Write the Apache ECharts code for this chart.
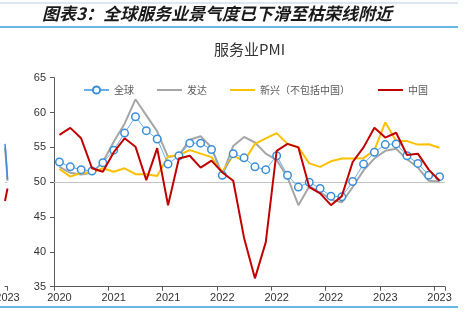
<!DOCTYPE html>
<html>
<head>
<meta charset="utf-8">
<script src="https://cdn.jsdelivr.net/npm/echarts@6/dist/echarts.min.js"></script>
<style>
html,body{margin:0;padding:0;background:#fff;}
#c{width:469px;height:325px;}
</style>
</head>
<body>
<div id="c"></div>
<script>
// ---- data (monthly, Oct 2020 - Sep 2023) ----
const categories = ['2020-10','2020-11','2020-12','2021-01','2021-02','2021-03','2021-04','2021-05','2021-06','2021-07','2021-08','2021-09',
  '2021-10','2021-11','2021-12','2022-01','2022-02','2022-03','2022-04','2022-05','2022-06','2022-07','2022-08','2022-09',
  '2022-10','2022-11','2022-12','2023-01','2023-02','2023-03','2023-04','2023-05','2023-06','2023-07','2023-08','2023-09'];
const globalPMI = [52.9,52.2,51.8,51.6,52.8,54.6,57.05,59.4,57.4,56.2,52.6,53.8,55.6,55.6,54.7,51.0,54.1,53.5,52.2,51.8,53.8,51.0,49.3,50.0,49.1,48.0,47.9,50.1,52.6,54.3,55.4,55.5,53.8,52.7,51.0,50.8];
const developedPMI = [52.2,51.35,51.1,51.35,52.9,55.8,58.4,61.9,59.6,57.3,53.6,53.85,56.1,56.6,55.0,51.1,55.2,56.5,55.7,54.1,53.2,50.7,46.7,49.4,48.6,47.5,47.1,49.3,51.7,53.4,54.5,54.8,53.3,52.1,50.2,50.1];
const emergingExChinaPMI = [51.9,50.8,51.35,51.35,52.0,51.5,52.0,51.15,51.15,50.9,53.7,53.9,54.6,54.1,53.6,51.5,53.85,53.0,55.5,56.3,57.05,55.5,55.0,52.7,52.2,53.0,53.4,53.4,53.45,54.6,58.6,55.9,55.9,55.4,55.45,54.95];
const chinaPMI = [56.8,57.8,56.3,52.0,51.5,54.3,56.3,55.1,50.3,54.9,46.7,53.4,53.8,52.1,53.1,51.4,50.2,42.0,36.2,41.4,54.5,55.5,55.0,49.3,48.4,46.7,48.0,52.9,55.0,57.8,56.4,57.1,53.9,54.1,51.8,50.2];
const yTicks = {min:35, max:65, step:5};
const boomBustLine = 50;

// neighbouring chart (cut off at the left edge)
const nbCategories = ['nb1','nb2','nb3','nb4'];
const nbLastLabel = '2023';
const nbGlobal = [55.5,54.0,52.3,50.4];
const nbDeveloped = [55.0,53.6,52.0,50.2];
const nbChina = [47.3,47.9,48.5,49.1];

const seriesNames = ['全球','发达','新兴（不包括中国）','中国'];
const chartTitle = '服务业PMI';
const figureTitle = '图表3：全球服务业景气度已下滑至枯荣线附近';

const chart = echarts.init(document.getElementById('c'), null, {renderer:'canvas'});
const axisColor = '#595959';
const labelFont = {color:'#333', fontSize:11, fontFamily:'Liberation Sans, Arial, sans-serif'};
const gridTop = 77.7, gridBottom = 38.3;
const legendText = {fontSize:10, color:'#595959', fontFamily:'Noto Sans CJK SC'};
const noSymbol = {itemStyle:{opacity:0}};

chart.setOption({
  animation:false,
  backgroundColor:'#fff',
  title:[
    {text:figureTitle, left:42, top:5, padding:0, textStyle:{fontSize:17, fontStyle:'italic', fontWeight:'bold', color:'#1a1a1a', fontFamily:'Noto Sans CJK SC'}},
    {text:chartTitle, left:249.5, textAlign:'center', top:42, padding:0, textStyle:{fontSize:15, fontWeight:'normal', color:'#333', fontFamily:'Noto Sans CJK SC'}}
  ],
  graphic:[
    {type:'line', shape:{x1:0,y1:3,x2:458,y2:3}, style:{stroke:'#b8cfe3', lineWidth:1}, silent:true},
    {type:'line', shape:{x1:0,y1:27,x2:458,y2:27}, style:{stroke:'#3a9fdb', lineWidth:1.5}, silent:true},
    {type:'line', shape:{x1:0,y1:307,x2:458,y2:307}, style:{stroke:'#3a9fdb', lineWidth:1.5}, silent:true}
  ],
  legend:[
    {data:[seriesNames[0], Object.assign({name:seriesNames[1]}, noSymbol), Object.assign({name:seriesNames[2]}, noSymbol)],
     left:83, top:85, padding:0, itemWidth:25, itemHeight:9, itemGap:22, textStyle:legendText},
    {data:[Object.assign({name:seriesNames[3]}, noSymbol)],
     left:377, top:85, padding:0, itemWidth:25, itemHeight:9, textStyle:legendText}
  ],
  grid:[
    {left:54, right:24, top:gridTop, bottom:gridBottom},
    {left:-5, right:464, top:gridTop, bottom:gridBottom}
  ],
  xAxis:[
    {type:'category', data:categories, boundaryGap:true, gridIndex:0,
     axisLine:{lineStyle:{color:axisColor}},
     axisTick:{show:true, interval:4, length:4, lineStyle:{color:axisColor}},
     axisLabel:Object.assign({interval:4, margin:6, formatter:v=>v.slice(0,4)}, labelFont)},
    {type:'category', data:nbCategories, boundaryGap:false, gridIndex:1,
     axisLine:{lineStyle:{color:axisColor}},
     axisTick:{show:true, length:4, interval:(i)=>i===nbCategories.length-1, lineStyle:{color:axisColor}},
     axisLabel:Object.assign({interval:(i)=>i===nbCategories.length-1, margin:6, formatter:()=>nbLastLabel}, labelFont)}
  ],
  yAxis:[
    {type:'value', min:yTicks.min, max:yTicks.max, interval:yTicks.step, gridIndex:0,
     axisLine:{show:true, lineStyle:{color:axisColor}},
     axisTick:{show:true, length:4, lineStyle:{color:axisColor}},
     splitLine:{show:false},
     axisLabel:Object.assign({margin:8}, labelFont)},
    {type:'value', min:yTicks.min, max:yTicks.max, interval:yTicks.step, gridIndex:1, show:false}
  ],
  series:[
    {name:seriesNames[0], type:'line', data:globalPMI, z:4, symbol:'circle', symbolSize:7.5, showSymbol:true, showAllSymbol:true,
     lineStyle:{color:'#6aaee6', width:1},
     itemStyle:{color:'#ffffff', borderColor:'#3b8fd8', borderWidth:1.5}},
    {name:seriesNames[1], type:'line', data:developedPMI, z:2, symbol:'none',
     lineStyle:{color:'#a6a6a6', width:2}, itemStyle:{color:'#a6a6a6'},
     markLine:{silent:true, symbol:'none', label:{show:false}, z:1,
       lineStyle:{color:'#c4c4c4', width:1, type:'solid'}, data:[{yAxis:boomBustLine}]}},
    {name:seriesNames[2], type:'line', data:emergingExChinaPMI, z:3, symbol:'none',
     lineStyle:{color:'#ffc000', width:2}, itemStyle:{color:'#ffc000'}},
    {name:seriesNames[3], type:'line', data:chinaPMI, z:5, symbol:'none',
     lineStyle:{color:'#c00000', width:2}, itemStyle:{color:'#c00000'}},
    {name:'nb-dev', type:'line', data:nbDeveloped, xAxisIndex:1, yAxisIndex:1, symbol:'none', z:2,
     lineStyle:{color:'#a6a6a6', width:2},
     markLine:{silent:true, symbol:'none', label:{show:false},
       lineStyle:{color:'#c4c4c4', width:1, type:'solid'}, data:[{yAxis:boomBustLine}]}},
    {name:'nb-global', type:'line', data:nbGlobal, xAxisIndex:1, yAxisIndex:1, symbol:'none', z:4,
     lineStyle:{color:'#3b8fd8', width:1.5}},
    {name:'nb-china', type:'line', data:nbChina, xAxisIndex:1, yAxisIndex:1, symbol:'none', z:5,
     lineStyle:{color:'#c00000', width:2}}
  ]
});
</script>
</body>
</html>
